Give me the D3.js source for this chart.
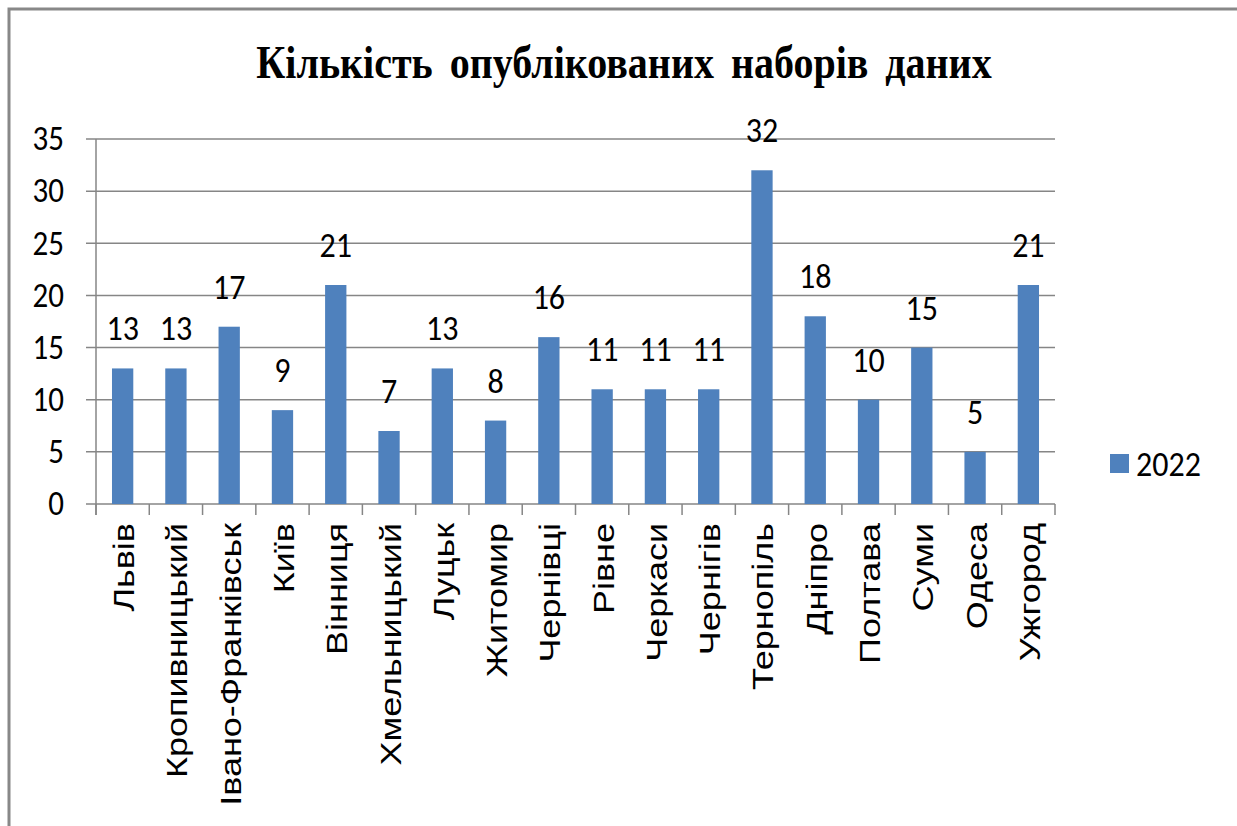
<!DOCTYPE html>
<html><head><meta charset="utf-8">
<script src="https://cdn.jsdelivr.net/npm/d3@7"></script>
<style>body{margin:0;background:#fff}svg{display:block}</style>
</head><body><svg id="c" width="1237" height="826"></svg>
<script>
const categories = ["Львів","Кропивницький","Івано-Франківськ","Київ","Вінниця","Хмельницький","Луцьк","Житомир","Чернівці","Рівне","Черкаси","Чернігів","Тернопіль","Дніпро","Полтава","Суми","Одеса","Ужгород"];
const values2022 = [13,13,17,9,21,7,13,8,16,11,11,11,32,18,10,15,5,21];
const yTicks = [0,5,10,15,20,25,30,35];
const seriesName = "2022";
const title = "Кількість опублікованих наборів даних";

const svg = d3.select("#c");
const L = 96, R = 1055, T = 139, B = 504;
const numFont = "Carlito, Lato, sans-serif";
const SY = 1.14, SN = 1.1;

svg.append("rect").attr("x",9).attr("y",9).attr("width",1400).attr("height",1000)
  .attr("fill","none").attr("stroke","#888").attr("stroke-width",3);

svg.append("text").attr("transform",`translate(624,78) scale(1,${SY})`).attr("text-anchor","middle")
  .attr("font-family","'Liberation Serif', serif").attr("font-weight","bold")
  .attr("font-size",40).attr("word-spacing",7).text(title);

const x = d3.scaleBand().domain(categories).range([L,R]).paddingInner(0.6).paddingOuter(0.3);
const xb = d3.scaleBand().domain(categories).range([L,R]);
const y = d3.scaleLinear().domain([0,35]).range([B,T]);

// gridlines
svg.append("g").selectAll("line").data(yTicks).join("line")
  .attr("x1",86).attr("x2",R).attr("y1",d=>y(d)).attr("y2",d=>y(d))
  .attr("stroke","#868686").attr("stroke-width",1.5);
// y axis line
svg.append("line").attr("x1",L).attr("x2",L).attr("y1",T).attr("y2",B+11)
  .attr("stroke","#868686").attr("stroke-width",1.5);
// y tick labels
svg.append("g").selectAll("text").data(yTicks).join("text")
  .attr("transform",d=>`translate(64,${y(d)}) scale(1,${SN})`).attr("dy","0.33em").attr("text-anchor","end")
  .attr("font-family",numFont).attr("font-size",31).attr("fill","#000").text(d=>d);
// x ticks at boundaries
const bounds = categories.map(c=>xb(c)).concat([R]);
svg.append("g").selectAll("line").data(bounds).join("line")
  .attr("x1",d=>d).attr("x2",d=>d).attr("y1",B).attr("y2",B+11)
  .attr("stroke","#868686").attr("stroke-width",1.5);

// bars
svg.append("g").selectAll("rect").data(values2022).join("rect")
  .attr("x",(d,i)=>x(categories[i])).attr("width",x.bandwidth())
  .attr("y",d=>y(d)).attr("height",d=>B-y(d)).attr("fill","#4F81BD");
// data labels
svg.append("g").selectAll("text").data(values2022).join("text")
  .attr("transform",(d,i)=>`translate(${x(categories[i])+x.bandwidth()/2},${y(d)-28}) scale(1,${SN})`)
  .attr("text-anchor","middle").attr("font-family",numFont).attr("font-size",32).text(d=>d);
// x labels
svg.append("g").selectAll("text").data(categories).join("text")
  .attr("transform",c=>`translate(${xb(c)+xb.bandwidth()/2+1},523) rotate(-90) scale(1.2,1)`)
  .attr("dy","0.35em").attr("text-anchor","end")
  .attr("font-family","'Liberation Sans', Arial, sans-serif").attr("font-size",30).text(c=>c);

// legend
svg.append("rect").attr("x",1110).attr("y",454).attr("width",19).attr("height",19).attr("fill","#4F81BD");
svg.append("text").attr("transform",`translate(1136,476) scale(1,${SN})`)
  .attr("font-family",numFont).attr("font-size",32).text(seriesName);
</script></body></html>
